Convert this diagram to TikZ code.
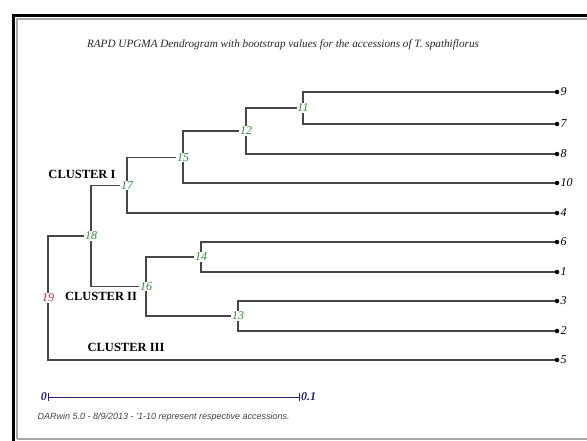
\documentclass[tikz,border=0pt]{standalone}
\usepackage{fontspec}
\setmainfont{Liberation Serif}
\setsansfont{Liberation Sans}
\usetikzlibrary{positioning}
\definecolor{bootgreen}{RGB}{45,140,55}
\definecolor{rootred}{RGB}{205,30,70}
\definecolor{scalenavy}{RGB}{35,35,120}
\definecolor{branchgray}{RGB}{70,70,70}
\tikzset{
  branch/.style={draw=branchgray, line width=1.2pt},
  leaf/.style={circle, fill=black, inner sep=0pt, minimum size=4.5pt},
  leaflabel/.style={font=\itshape\fontsize{12}{12}\selectfont, inner sep=1pt, label distance=0pt},
  boot/.style={fill=white, inner sep=0.6pt, text=bootgreen, font=\itshape\fontsize{12}{12}\selectfont},
  cluster/.style={font=\bfseries\fontsize{12.5}{13}\selectfont},
}
\begin{document}
\begin{tikzpicture}[x=1pt, y=-1pt]
\useasboundingbox (0,0) rectangle (587,440);
% frame
\draw[line width=3pt] (13.5,441) -- (13.5,15.5) -- (588,15.5);
\draw[black!35, line width=1.5pt] (16.8,439) -- (16.8,18.8) -- (588,18.8);
\draw[black!35, line width=1.5pt] (16.8,439) -- (588,439);
\node[font=\itshape\fontsize{11.2}{12}\selectfont, text=black!85] (title) at (283,45) {RAPD UPGMA Dendrogram with bootstrap values for the accessions of T. spathiflorus};
% leaves
\node[leaf, label={[leaflabel]right:9}] (l9) at (557,92) {};
\node[leaf, label={[leaflabel]right:7}] (l7) at (557,124) {};
\node[leaf, label={[leaflabel]right:8}] (l8) at (557,154) {};
\node[leaf, label={[leaflabel]right:10}] (l10) at (557,183) {};
\node[leaf, label={[leaflabel]right:4}] (l4) at (557,213) {};
\node[leaf, label={[leaflabel]right:6}] (l6) at (557,242) {};
\node[leaf, label={[leaflabel]right:1}] (l1) at (557,272) {};
\node[leaf, label={[leaflabel]right:3}] (l3) at (557,301) {};
\node[leaf, label={[leaflabel]right:2}] (l2) at (557,331) {};
\node[leaf, label={[leaflabel]right:5}] (l5) at (557,360) {};
% bootstrap nodes
\node[boot] (n11) at (303,108) {11};
\node[boot] (n12) at (246,131) {12};
\node[boot] (n15) at (183,157.5) {15};
\node[boot] (n17) at (127,185.5) {17};
\node[boot] (n18) at (91,236) {18};
\node[boot] (n14) at (201,257) {14};
\node[boot] (n13) at (238,316) {13};
\node[boot] (n16) at (146,286.5) {16};
\node[boot, text=rootred] (n19) at (48,298) {19};
\draw[branch] (n11) |- (l9);
\draw[branch] (n11) |- (l7);
\draw[branch] (n12) |- (n11);
\draw[branch] (n12) |- (l8);
\draw[branch] (n15) |- (n12);
\draw[branch] (n15) |- (l10);
\draw[branch] (n17) |- (n15);
\draw[branch] (n17) |- (l4);
\draw[branch] (n14) |- (l6);
\draw[branch] (n14) |- (l1);
\draw[branch] (n13) |- (l3);
\draw[branch] (n13) |- (l2);
\draw[branch] (n16) |- (n14);
\draw[branch] (n16) |- (n13);
\draw[branch] (n18) |- (n17);
\draw[branch] (n18) |- (n16);
\draw[branch] (n19) |- (n18);
\draw[branch] (n19) |- (l5);
% clusters
\node[cluster] (c1) at (82,174) {CLUSTER I};
\node[cluster] (c2) at (101,296) {CLUSTER II};
\node[cluster] (c3) at (126,347) {CLUSTER III};
% scale bar
\node[anchor=east, inner sep=1pt, text=scalenavy, font=\bfseries\itshape\fontsize{12}{12}\selectfont] (s0) at (48,397) {0};
\node[anchor=west, inner sep=1pt, text=scalenavy, font=\bfseries\itshape\fontsize{12}{12}\selectfont] (s1) at (300,397) {0.1};
\draw[scalenavy, line width=0.9pt, |-|] (s0) -- (s1);
\node[anchor=west, text=black!75, font=\sffamily\itshape\fontsize{9}{9}\selectfont] (note) at (34,417) {DARwin 5.0 - 8/9/2013 - '1-10 represent respective accessions.};
\end{tikzpicture}
\end{document}
